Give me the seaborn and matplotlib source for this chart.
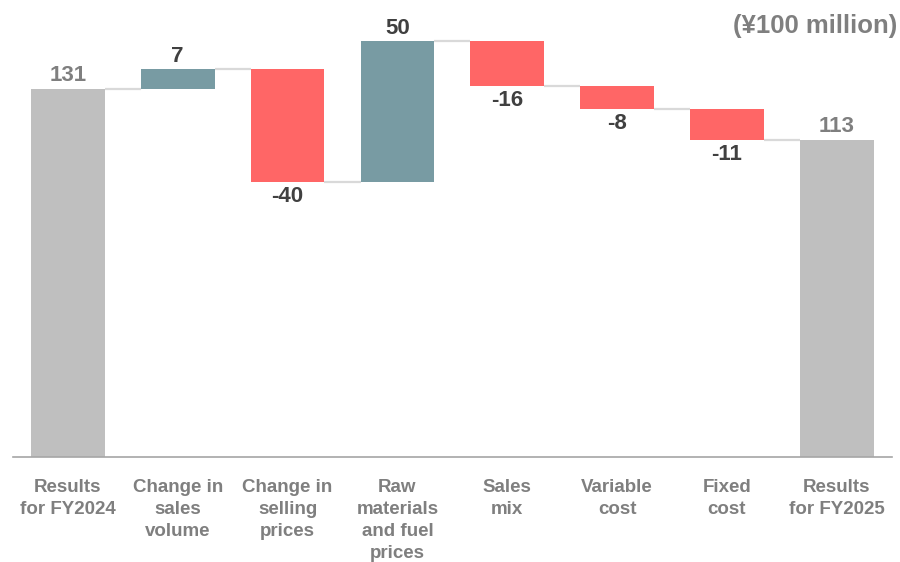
import numpy as np
import pandas as pd
import matplotlib
matplotlib.use("Agg")
import matplotlib.pyplot as plt
import seaborn as sns

# Operating income bridge, FY2024 -> FY2025 (¥100 million)
categories = [
    "Results\nfor FY2024",
    "Change in\nsales\nvolume",
    "Change in\nselling\nprices",
    "Raw\nmaterials\nand fuel\nprices",
    "Sales\nmix",
    "Variable\ncost",
    "Fixed\ncost",
    "Results\nfor FY2025",
]
values = [131, 7, -40, 50, -16, -8, -11, 113]
kinds = ["total", "delta", "delta", "delta", "delta", "delta", "delta", "total"]
unit_label = "(¥100 million)"

colors = {"total": "#BFBFBF", "up": "#789BA3", "down": "#FF6666"}

sns.set_theme(style="white")
plt.rcParams["font.family"] = ["Liberation Sans", "DejaVu Sans"]

# Floating bar geometry from running totals
bases, spans, groups, levels = [], [], [], []
running = 0.0
for v, k in zip(values, kinds):
    if k == "total":
        bases.append(0.0)
        spans.append(v)
        groups.append("total")
        running = v
    else:
        start = running
        running = running + v
        bases.append(min(start, running))
        spans.append(abs(v))
        groups.append("up" if v > 0 else "down")
    levels.append(running)

df = pd.DataFrame({
    "category": categories,
    "value": values,
    "base": bases,
    "span": spans,
    "group": groups,
    "level": levels,
})

fig = plt.figure(figsize=(9, 5.62), dpi=100)
ax = fig.add_axes([0.0144, 0.1868, 0.9764, 0.8132])

bar_width = 0.67
for g in ["total", "up", "down"]:
    sub = df[df["group"] == g]
    sns.barplot(
        data=sub, x="category", y="span", order=categories,
        color=colors[g], saturation=1, width=bar_width,
        bottom=sub["base"].to_numpy(), errorbar=None,
        linewidth=0, ax=ax,
    )

# Connectors between consecutive bars
half = bar_width / 2
for i in range(len(categories) - 1):
    ax.plot([i + half, i + 1 - half], [levels[i], levels[i]],
            color="#D9D9D9", lw=1.6, solid_capstyle="butt", zorder=1)

# Value labels
label_size = 16
for i, row in df.iterrows():
    top = row["base"] + row["span"]
    if row["group"] == "total":
        ax.annotate(f"{row['value']:d}", (i, top), xytext=(0, 2),
                    textcoords="offset points", ha="center", va="bottom",
                    fontsize=label_size, fontweight="bold", color="#7F7F7F")
    elif row["group"] == "up":
        ax.annotate(f"{row['value']:d}", (i, top), xytext=(0, 2),
                    textcoords="offset points", ha="center", va="bottom",
                    fontsize=label_size, fontweight="bold", color="#404040")
    else:
        ax.annotate(f"{row['value']:d}", (i, row["base"]), xytext=(0, -3),
                    textcoords="offset points", ha="center", va="top",
                    fontsize=label_size, fontweight="bold", color="#404040")

ax.set_xlim(-0.5, len(categories) - 0.5)
ax.set_ylim(0, 162.7)
ax.set_xlabel("")
ax.set_ylabel("")
ax.set_yticks([])
ax.set_xticks(range(len(categories)))
ax.set_xticklabels(categories, fontsize=13.5, fontweight="bold",
                   color="#7F7F7F", linespacing=1.38)
ax.tick_params(axis="x", length=0, pad=16)

for side in ["top", "right", "left"]:
    ax.spines[side].set_visible(False)
ax.spines["bottom"].set_color("#A6A6A6")
ax.spines["bottom"].set_linewidth(1.2)
ax.set_facecolor("white")
fig.patch.set_facecolor("white")

fig.text(0.997, 0.953, unit_label, ha="right", va="center",
         fontsize=18.5, fontweight="bold", color="#7F7F7F")

fig.savefig("out.png", dpi=100, facecolor="white")
